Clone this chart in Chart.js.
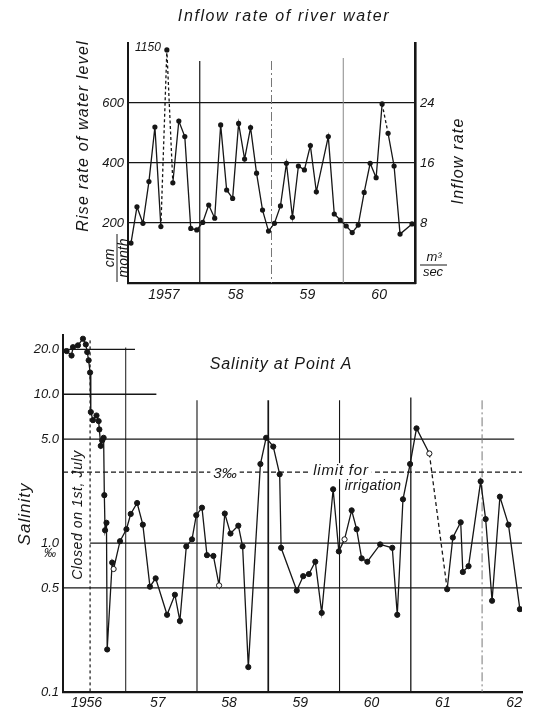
<!DOCTYPE html>
<html>
<head>
<meta charset="utf-8">
<script src="https://cdn.jsdelivr.net/npm/chart.js@4.4.1/dist/chart.umd.min.js"></script>
<style>
  html, body { margin: 0; padding: 0; background: #fff; }
  #wrap { position: relative; width: 535px; height: 712px; }
  canvas { position: absolute; left: 0; }
  #inflowChart { top: 0; }
  #salinityChart { top: 310px; }
</style>
</head>
<body>
<div id="wrap">
  <canvas id="inflowChart" width="535" height="310"></canvas>
  <canvas id="salinityChart" width="535" height="402"></canvas>
</div>
<script>
// ---- data: inflow (monthly, Jan 1957 - Dec 1960) ----
const inflowYearLabels = ['1957', '58', '59', '60'];
const riseRate = [
  133, 254, 199, 338, 520, 188, 1150, 334, 540, 488, 182, 177,   // 1957
  202, 260, 216, 527, 310, 282, 532, 413, 518, 366, 243, 173,    // 1958
  199, 257, 399, 219, 390, 377, 458, 304, null, 488, 230, 210,   // 1959
  190, 168, 193, 302, 399, 351, 597, 499, 390, 163, null, 197    // 1960
];
const riseTicks = [200, 400, 600];
const inflowTicks = [8, 16, 24];
const riseDashedFrom = [5, 6, 42];   // segments drawn dashed
const RISE_BREAK = 777;              // where the off-scale 1150 is drawn

// ---- data: salinity at point A ----
const salYears = [
  1956.17, 1956.24, 1956.26, 1956.33, 1956.40, 1956.44, 1956.46, 1956.48, 1956.50, 1956.51,
  1956.54, 1956.59, 1956.62, 1956.63, 1956.65, 1956.67, 1956.69, 1956.70, 1956.71, 1956.73,
  1956.74, 1956.81, 1956.83, 1956.92, 1957.01, 1957.07, 1957.16, 1957.24, 1957.34, 1957.42,
  1957.58, 1957.69, 1957.76, 1957.85, 1957.93, 1957.99, 1958.07, 1958.14, 1958.23, 1958.31,
  1958.39, 1958.47, 1958.58, 1958.64, 1958.72, 1958.89, 1958.97, 1959.07, 1959.16, 1959.18,
  1959.40, 1959.49, 1959.57, 1959.66, 1959.75, 1959.91, 1959.99, 1960.07, 1960.17, 1960.24,
  1960.31, 1960.39, 1960.57, 1960.74, 1960.81, 1960.89, 1960.99, 1961.08, 1961.26, 1961.51,
  1961.59, 1961.70, 1961.73, 1961.81, 1961.98, 1962.05, 1962.14, 1962.25, 1962.37, 1962.53
];
const salinity = [
  19.5, 18.2, 20.7, 21.3, 23.6, 21.6, 19.2, 16.9, 14.0, 7.6,
  6.7, 7.2, 6.6, 5.8, 4.5, 4.9, 5.1, 2.1, 1.22, 1.37,
  0.193, 0.74, 0.67, 1.03, 1.24, 1.57, 1.86, 1.33, 0.51, 0.58,
  0.33, 0.45, 0.30, 0.95, 1.06, 1.54, 1.73, 0.83, 0.82, 0.52,
  1.58, 1.16, 1.31, 0.95, 0.147, 3.4, 5.1, 4.45, 2.9, 0.93,
  0.48, 0.60, 0.62, 0.75, 0.34, 2.3, 0.88, 1.06, 1.66, 1.24,
  0.79, 0.75, 0.98, 0.93, 0.33, 1.97, 3.4, 5.9, 4.0, 0.49,
  1.09, 1.38, 0.64, 0.70, 2.6, 1.45, 0.41, 2.05, 1.33, 0.36
];
const salOpen = [22, 39, 57, 68];       // hollow markers
const salDashedFrom = [68];
const salYearLabels = ['1956', '57', '58', '59', '60', '61', '62'];
const salTickValues = [0.1, 0.5, 1, 5, 10, 20];
const salTickLabels = ['0.1', '0.5', '1.0', '5.0', '10.0', '20.0'];
const irrigationLimit = 3;

const FONT = "'Liberation Sans', Arial, sans-serif";
const INK = '#161616';
const tickFont = { family: FONT, size: 13, style: 'italic' };

function drawText(ctx, text, x, y, o) {
  ctx.save();
  ctx.font = o.font;
  ctx.textAlign = o.align || 'center';
  ctx.textBaseline = 'middle';
  if (o.spacing) ctx.letterSpacing = o.spacing;
  ctx.translate(x, y);
  if (o.rotate) ctx.rotate(-Math.PI / 2);
  if (o.box) {
    const w = ctx.measureText(text).width;
    ctx.fillStyle = '#fff';
    ctx.fillRect(-w / 2 - 3, -8, w + 6, 16);
  }
  ctx.fillStyle = INK;
  ctx.fillText(text, 0, 0);
  ctx.restore();
}

function line(ctx, x1, y1, x2, y2, w, dash, color) {
  ctx.save();
  ctx.strokeStyle = color || INK;
  ctx.lineWidth = w;
  ctx.setLineDash(dash || []);
  ctx.beginPath();
  ctx.moveTo(x1, y1);
  ctx.lineTo(x2, y2);
  ctx.stroke();
  ctx.restore();
}

// ---- top chart decorations ----
const inflowDecor = {
  id: 'inflowDecor',
  beforeDatasetsDraw(chart) {
    const { ctx, chartArea: a, scales: { x, y } } = chart;
    const seps = [
      { m: 12, top: 740, dash: [], color: INK, w: 1.2 },
      { m: 24, top: 740, dash: [9, 3, 2, 3], color: '#777', w: 1 },
      { m: 36, top: 750, dash: [], color: '#888', w: 1 }
    ];
    seps.forEach(s => {
      const px = x.getPixelForValue(s.m);
      line(ctx, px, y.getPixelForValue(s.top), px, a.bottom, s.w, s.dash, s.color);
    });
  },
  afterDraw(chart) {
    const { ctx } = chart;
    drawText(ctx, 'Inflow rate of river water', 284, 17, { font: `italic 16px ${FONT}`, spacing: '1.6px' });
    drawText(ctx, 'Rise rate of water level', 84, 136, { font: `italic 16px ${FONT}`, spacing: '1.2px', rotate: true });
    drawText(ctx, 'Inflow rate', 459, 161, { font: `italic 16px ${FONT}`, spacing: '1.2px', rotate: true });
    // cm / month
    ctx.save();
    ctx.translate(117, 258);
    ctx.rotate(-Math.PI / 2);
    drawText(ctx, 'cm', 0, -7, { font: `italic 14px ${FONT}` });
    drawText(ctx, 'month', 0, 7, { font: `italic 14px ${FONT}` });
    line(ctx, -24, 0, 24, 0, 1);
    ctx.restore();
    // m3 / sec
    drawText(ctx, 'm³', 434, 257, { font: `italic 13px ${FONT}` });
    line(ctx, 420, 265, 447, 265, 1);
    drawText(ctx, 'sec', 433, 272, { font: `italic 13px ${FONT}` });
    // off-scale label
    const i = riseRate.findIndex(v => v > RISE_BREAK);
    const pt = chart.getDatasetMeta(0).data[i];
    drawText(ctx, String(riseRate[i]), pt.x - 6, pt.y - 2, { font: `italic 12px ${FONT}`, align: 'right' });
  }
};

new Chart(document.getElementById('inflowChart'), {
  type: 'line',
  data: {
    datasets: [{
      data: riseRate.map((v, i) => ({ x: i + 0.5, y: v === null ? null : Math.min(v, RISE_BREAK) })),
      borderColor: INK,
      borderWidth: 1.3,
      pointRadius: 2.6,
      pointBackgroundColor: INK,
      pointBorderWidth: 0,
      spanGaps: true,
      tension: 0,
      segment: { borderDash: c => riseDashedFrom.includes(c.p0DataIndex) ? [3, 2.5] : undefined }
    }]
  },
  options: {
    responsive: false,
    animation: false,
    layout: { padding: { top: 43, left: 0, right: 0, bottom: 0 } },
    plugins: { legend: { display: false }, tooltip: { enabled: false } },
    scales: {
      x: {
        type: 'linear', min: 0, max: 48,
        afterBuildTicks: s => { s.ticks = inflowYearLabels.map((_, i) => ({ value: i * 12 + 6 })); },
        afterFit: s => { s.height = 27; },
        grid: { display: false, drawTicks: false },
        border: { width: 2.2, color: INK },
        ticks: { callback: (v, i) => inflowYearLabels[i], font: { family: FONT, size: 14, style: 'italic' }, color: INK, padding: 4, maxRotation: 0, autoSkip: false }
      },
      y: {
        position: 'left', min: 0, max: 800,
        afterBuildTicks: s => { s.ticks = riseTicks.map(v => ({ value: v })); },
        afterFit: s => { s.width = 128; },
        grid: { color: INK, lineWidth: 1.2, drawTicks: false },
        border: { width: 2, color: INK },
        ticks: { font: tickFont, color: INK, padding: 4, autoSkip: false }
      },
      y2: {
        position: 'right', min: 0, max: 32,
        afterBuildTicks: s => { s.ticks = inflowTicks.map(v => ({ value: v })); },
        afterFit: s => { s.width = 120; },
        grid: { display: false, drawTicks: false },
        border: { width: 2.6, color: INK },
        ticks: { font: tickFont, color: INK, padding: 5, autoSkip: false }
      }
    }
  },
  plugins: [inflowDecor]
});

// ---- bottom chart decorations ----
const salinityDecor = {
  id: 'salinityDecor',
  beforeDatasetsDraw(chart) {
    const { ctx, chartArea: a, scales: { x, y } } = chart;
    const hLines = [
      { v: 20, to: 1957.13 },
      { v: 10, to: 1957.43 },
      { v: 5, to: 1962.45 },
      { v: 1, from: 1956.5 },
      { v: 0.5 }
    ];
    hLines.forEach(h => {
      const py = y.getPixelForValue(h.v);
      const x1 = h.from ? x.getPixelForValue(h.from) : a.left;
      const x2 = h.to ? x.getPixelForValue(h.to) : a.right;
      line(ctx, x1, py, x2, py, 1.3);
    });
    const vLines = [
      { t: 1956.5, top: 23, dash: [3, 3], w: 1.2 },
      { t: 1957, top: 20.6, w: 1 },
      { t: 1958, top: 9.1, w: 1.1 },
      { t: 1959, top: 9.1, w: 1.7 },
      { t: 1960, top: 9.1, w: 1.1 },
      { t: 1961, top: 9.5, w: 1.3 },
      { t: 1962, top: 9.1, w: 1, dash: [9, 3, 2, 3], color: '#777' }
    ];
    vLines.forEach(v => {
      const px = x.getPixelForValue(v.t);
      line(ctx, px, y.getPixelForValue(v.top), px, a.bottom, v.w, v.dash, v.color);
    });
    // irrigation limit
    const ly = y.getPixelForValue(irrigationLimit);
    line(ctx, a.left, ly, a.right, ly, 1.2, [5, 3]);
    drawText(ctx, '3‰', 225, ly + 2, { font: `italic 15px ${FONT}`, box: true });
    drawText(ctx, 'limit for', 341, ly - 1, { font: `italic 15px ${FONT}`, spacing: '0.8px', box: true });
    drawText(ctx, 'irrigation', 373, ly + 14, { font: `italic 14px ${FONT}`, spacing: '0.3px' });
  },
  afterDraw(chart) {
    const { ctx } = chart;
    drawText(ctx, 'Salinity at Point A', 281, 55, { font: `italic 16px ${FONT}`, spacing: '0.9px' });
    drawText(ctx, 'Salinity', 25, 204, { font: `italic 17px ${FONT}`, spacing: '1px', rotate: true });
    drawText(ctx, 'Closed on 1st, July', 78, 205, { font: `italic 14px ${FONT}`, spacing: '0.6px', rotate: true });
    const p = chart.scales.y.getPixelForValue(1);
    drawText(ctx, '‰', 50, p + 11, { font: `italic 12px ${FONT}` });
  }
};

new Chart(document.getElementById('salinityChart'), {
  type: 'line',
  data: {
    datasets: [{
      data: salinity.map((v, i) => ({ x: salYears[i], y: v })),
      borderColor: INK,
      borderWidth: 1.3,
      pointRadius: 2.6,
      pointBackgroundColor: salinity.map((_, i) => salOpen.includes(i) ? '#fff' : INK),
      pointBorderColor: INK,
      pointBorderWidth: 1,
      tension: 0,
      segment: { borderDash: c => salDashedFrom.includes(c.p0DataIndex) ? [4, 3] : undefined }
    }]
  },
  options: {
    responsive: false,
    animation: false,
    layout: { padding: { top: 25, left: 0, right: 13, bottom: 0 } },
    plugins: { legend: { display: false }, tooltip: { enabled: false } },
    scales: {
      x: {
        type: 'linear', min: 1956.12, max: 1962.56,
        afterBuildTicks: s => { s.ticks = salYearLabels.map((_, i) => ({ value: 1956.45 + i })); },
        afterFit: s => { s.height = 20; },
        grid: { display: false, drawTicks: false },
        border: { width: 2.2, color: INK },
        ticks: { callback: (v, i) => salYearLabels[i], font: { family: FONT, size: 14, style: 'italic' }, color: INK, padding: 3, maxRotation: 0, autoSkip: false }
      },
      y: {
        type: 'logarithmic', min: 0.1, max: 25,
        afterBuildTicks: s => { s.ticks = salTickValues.map(v => ({ value: v })); },
        afterFit: s => { s.width = 63; },
        grid: { display: false, drawTicks: false },
        border: { width: 2, color: INK },
        ticks: { callback: (v, i) => salTickLabels[i], font: tickFont, color: INK, padding: 4, autoSkip: false }
      }
    }
  },
  plugins: [salinityDecor]
});
</script>
</body>
</html>
